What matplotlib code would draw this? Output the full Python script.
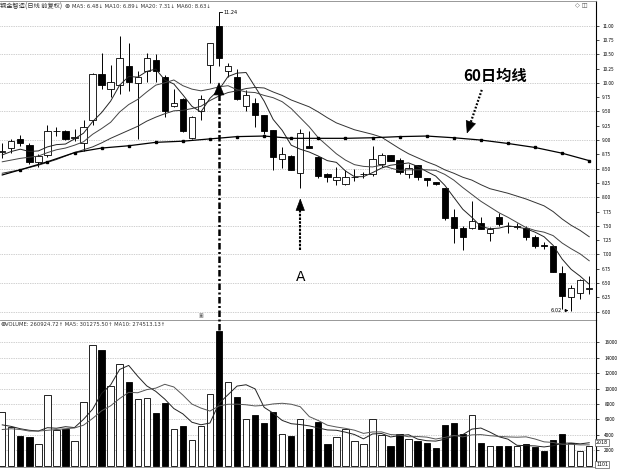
import numpy as np
import matplotlib.pyplot as plt

plt.rcParams['font.family'] = ['Noto Sans CJK SC', 'DejaVu Sans']

# daily candles (66 sessions)
opens = [8.79, 8.86, 9.02, 8.91, 8.62, 8.74, 9.15, 9.16, 9.03, 8.94,
         9.35, 10.15, 9.90, 9.96, 10.30, 9.99, 10.20, 10.40, 10.10, 9.60,
         9.72, 9.03, 9.51, 10.31, 11.00, 10.20, 10.11, 9.60, 9.64, 9.44,
         9.18, 8.66, 8.72, 8.42, 8.90, 8.71, 8.40, 8.30, 8.23, 8.35,
         8.40, 8.40, 8.59, 8.73, 8.65, 8.41, 8.56, 8.33, 8.26, 8.17,
         7.65, 7.47, 7.46, 7.55, 7.38, 7.65, 7.50, 7.48, 7.46, 7.31,
         7.16, 7.14, 6.68, 6.25, 6.32, 6.40]
highs = [8.94, 9.01, 9.08, 8.94, 8.75, 9.27, 9.23, 9.18, 9.20, 9.35,
         10.17, 10.52, 10.31, 10.81, 10.70, 10.20, 10.52, 10.50, 10.14, 9.89,
         9.73, 9.42, 9.79, 10.70, 11.24, 10.34, 10.25, 9.88, 9.73, 9.44,
         9.18, 8.87, 8.74, 9.19, 9.16, 8.72, 8.43, 8.53, 8.47, 8.49,
         8.45, 8.90, 8.77, 8.74, 8.68, 8.59, 8.57, 8.33, 8.27, 8.17,
         7.79, 7.49, 7.94, 7.65, 7.48, 7.72, 7.56, 7.55, 7.49, 7.34,
         7.21, 7.15, 6.80, 6.46, 6.58, 6.62]
lows = [8.68, 8.77, 8.90, 8.58, 8.53, 8.71, 9.07, 9.00, 8.98, 8.80,
        9.26, 9.90, 9.76, 9.81, 9.85, 9.01, 10.02, 10.02, 9.41, 9.57,
        9.14, 9.02, 9.35, 9.99, 10.29, 10.10, 9.70, 9.51, 9.23, 9.10,
        8.47, 8.51, 8.47, 8.16, 8.86, 8.33, 8.26, 8.21, 8.22, 8.29,
        8.33, 8.38, 8.53, 8.63, 8.41, 8.33, 8.30, 8.19, 8.21, 7.60,
        7.20, 7.07, 7.45, 7.45, 7.24, 7.50, 7.37, 7.44, 7.25, 7.12,
        7.10, 6.69, 6.05, 6.02, 6.23, 6.31]
closes = [8.80, 8.98, 8.94, 8.62, 8.72, 9.16, 9.15, 9.02, 9.05, 9.23,
          10.15, 9.97, 10.01, 10.43, 10.01, 10.10, 10.43, 10.21, 9.50, 9.65,
          9.16, 9.41, 9.72, 10.69, 10.43, 10.30, 9.71, 9.79, 9.44, 9.15,
          8.71, 8.75, 8.48, 9.13, 8.86, 8.37, 8.35, 8.35, 8.35, 8.36,
          8.41, 8.67, 8.74, 8.64, 8.44, 8.52, 8.36, 8.31, 8.23, 7.64,
          7.47, 7.31, 7.58, 7.45, 7.45, 7.53, 7.49, 7.48, 7.31, 7.14,
          7.15, 6.70, 6.28, 6.42, 6.55, 6.41]

ma5 = [8.74, 8.80, 8.84, 8.80, 8.81, 8.88, 8.92, 8.93, 9.02, 9.12,
       9.32, 9.48, 9.68, 9.96, 10.11, 10.10, 10.20, 10.24, 10.05, 9.98,
       9.79, 9.59, 9.49, 9.73, 9.88, 10.11, 10.17, 10.18, 9.93, 9.68,
       9.36, 9.17, 8.91, 8.84, 8.79, 8.72, 8.64, 8.61, 8.46, 8.36,
       8.36, 8.43, 8.51, 8.56, 8.58, 8.60, 8.54, 8.45, 8.37, 8.21,
       8.00, 7.79, 7.65, 7.49, 7.45, 7.46, 7.50, 7.48, 7.45, 7.39,
       7.31, 7.16, 6.92, 6.74, 6.62, 6.48]
ma10 = [8.62, 8.65, 8.68, 8.70, 8.72, 8.78, 8.83, 8.86, 8.91, 8.97,
        9.10, 9.20, 9.31, 9.49, 9.62, 9.71, 9.84, 9.96, 10.00, 10.05,
        9.95, 9.89, 9.86, 9.89, 9.93, 9.95, 9.88, 9.84, 9.83, 9.78,
        9.74, 9.67, 9.55, 9.39, 9.23, 9.04, 8.90, 8.76, 8.65, 8.57,
        8.54, 8.53, 8.56, 8.51, 8.47, 8.48, 8.48, 8.48, 8.47, 8.40,
        8.30, 8.17, 8.05, 7.93, 7.83, 7.73, 7.65, 7.56, 7.47, 7.42,
        7.39, 7.33, 7.20, 7.10, 7.01, 6.89]
ma20 = [8.42, 8.45, 8.48, 8.52, 8.56, 8.61, 8.66, 8.72, 8.78, 8.83,
        8.88, 8.95, 9.03, 9.10, 9.17, 9.24, 9.33, 9.40, 9.46, 9.51,
        9.52, 9.55, 9.59, 9.69, 9.77, 9.83, 9.86, 9.90, 9.92, 9.91,
        9.84, 9.78, 9.70, 9.64, 9.58, 9.49, 9.39, 9.30, 9.24, 9.18,
        9.14, 9.10, 9.05, 8.95, 8.85, 8.76, 8.69, 8.62, 8.56, 8.48,
        8.42, 8.35, 8.30, 8.22, 8.15, 8.11, 8.07, 8.02, 7.97, 7.91,
        7.85, 7.75, 7.62, 7.51, 7.42, 7.31]
# MA60 read at the dotted marker positions
ma60_idx = [0, 2, 5, 8, 11, 14, 17, 20, 23, 26, 29, 32, 35, 38, 41, 44,
            47, 50, 53, 56, 59, 62, 65]
ma60 = [8.39, 8.48, 8.62, 8.78, 8.86, 8.90, 8.96, 8.98, 9.02, 9.06, 9.07,
        9.03, 9.03, 9.03, 9.04, 9.06, 9.07, 9.04, 9.00, 8.94, 8.87, 8.77, 8.64]

volume = [6990, 5050, 3840, 3750, 2890, 9150, 4700, 4830, 3190, 8240,
          15630, 14980, 10320, 13170, 10880, 8630, 8720, 6780, 8150, 4790,
          5170, 3320, 5140, 9280, 17500, 10790, 8890, 6000, 6600, 5560,
          7030, 4180, 3890, 6040, 4720, 5690, 2890, 3670, 4830, 3190,
          2890, 6040, 3970, 2580, 4100, 3450, 3190, 2940, 2320, 5260,
          5560, 4100, 6520, 3020, 2630, 2550, 2540, 2540, 2800, 2460,
          1890, 3320, 4100, 3020, 1890, 2610]
vma5 = [5300, 5100, 4800, 4600, 4504, 4936, 4866, 5064, 4952, 6022,
        7318, 9374, 10472, 12468, 12996, 11596, 10344, 9636, 8632, 7414,
        6722, 5642, 5314, 5540, 8082, 9206, 10320, 10492, 9956, 7568,
        6816, 5874, 5452, 5340, 5172, 4904, 4646, 4602, 4360, 4054,
        3494, 4124, 4184, 3734, 3916, 4028, 3458, 3252, 3200, 3432,
        3854, 4036, 4752, 4892, 4366, 3764, 3452, 2656, 2612, 2578,
        2446, 2602, 2914, 2958, 2844, 2988]
vma10 = [4700, 4800, 4700, 4500, 4500, 4600, 4700, 4800, 4900, 5263,
         6127, 7120, 7768, 8710, 9509, 9457, 9859, 10054, 10550, 10205,
         9159, 7993, 7475, 7086, 7748, 7964, 7981, 7903, 7748, 7825,
         8011, 8097, 7972, 7648, 6370, 5860, 5260, 5027, 4850, 4613,
         4199, 4385, 4393, 4047, 3985, 3761, 3791, 3718, 3467, 3674,
         3941, 3747, 4002, 4046, 3899, 3809, 3744, 3704, 3752, 3472,
         3105, 3027, 2785, 2785, 2711, 2717]

price_ticks = np.arange(6.0, 11.01, 0.25)
price_grid = np.arange(6.0, 11.01, 0.5)
vol_ticks = [2000, 4000, 6000, 8000, 10000, 12000, 14000, 16000]

title = '钢金智造(日线 前复权)'
header = 'MA5: 6.48↓ MA10: 6.89↓ MA20: 7.31↓ MA60: 8.63↓'
vol_header = 'VOLUME: 260924.72↑ MA5: 301275.50↑ MA10: 274513.13↑'

x = np.arange(len(closes))
o = np.array(opens); c = np.array(closes)
up = c >= o
W = 0.7
grid_kw = dict(color='#a0a0a0', lw=0.5, dashes=(1, 1.5), zorder=0)
small = dict(family='DejaVu Sans', color='#333333', va='center', ha='left')

fig = plt.figure(figsize=(6.2, 4.69), dpi=100)
ax = fig.add_axes([0, 1 - 320 / 469, 596 / 620, 319 / 469])
ax2 = fig.add_axes([0, 2 / 469, 596 / 620, 147 / 469])
ax.set_zorder(3)
ax.patch.set_visible(False)

# --- price panel ---
for g in price_grid:
    ax.axhline(g, **grid_kw)
ax.vlines(x, lows, highs, color='black', lw=0.7, zorder=2)
body_lo = np.minimum(o, c)
body_h = np.maximum(np.abs(c - o), 0.012)
ax.bar(x, body_h, W, bottom=body_lo, color=np.where(up, 'white', 'black'),
       edgecolor='black', linewidth=0.6, zorder=3)

ax.plot(x, ma5, color='#222222', lw=0.7, zorder=4)
ax.plot(x, ma10, color='#444444', lw=0.7, zorder=4)
ax.plot(x, ma20, color='#333333', lw=0.7, zorder=4)
ax.plot(ma60_idx, ma60, color='black', lw=0.9, marker='s', ms=1.5,
        markevery=list(range(1, len(ma60))), zorder=4)

ax.set_xlim(-0.25, 65.75)
ax.set_ylim(5.855, 11.43)
ax.set_xticks([])
ax.yaxis.tick_right()
ax.set_yticks(price_ticks)
ax.set_yticklabels(['%.2f' % t for t in price_ticks])
ax.tick_params(axis='y', direction='out', length=2, width=0.5, labelsize=3.4, pad=2.5)
for s in ['left', 'bottom']:
    ax.spines[s].set_visible(False)
ax.spines['top'].set_color('#888888')
ax.spines['top'].set_linewidth(0.6)
ax.spines['right'].set_color('black')
ax.spines['right'].set_linewidth(0.8)

# header line
ax.text(0, 0.984, title, transform=ax.transAxes, fontsize=4.5,
        va='center', ha='left', color='#333333')
ax.text(67 / 596, 0.984, '⊗', transform=ax.transAxes, fontsize=4.5,
        va='center', ha='center', color='#222222', family='DejaVu Sans')
ax.text(72 / 596, 0.984, header, transform=ax.transAxes, fontsize=3.8, **small)
ax.text(588 / 596, 0.984, '◇ ◫', transform=ax.transAxes, fontsize=4.5,
        va='center', ha='right', color='#555555', family='DejaVu Sans')

# high / low labels
ax.plot([24, 24.35], [11.24, 11.24], color='black', lw=0.6)
ax.text(24.45, 11.23, '11.24', fontsize=3.6, va='center', ha='left',
        family='DejaVu Sans')
ax.annotate('', xy=(63.0, 6.02), xytext=(62.0, 6.02),
            arrowprops=dict(arrowstyle='-|>,head_length=0.3,head_width=0.15',
                            color='black', lw=0.5, mutation_scale=6))
ax.text(61.95, 6.02, '6.02', fontsize=3.6, va='center', ha='right',
        family='DejaVu Sans')
ax.text(22, 5.93, '▣', fontsize=3.5, ha='center', va='center', color='#666666',
        family='DejaVu Sans')

# big dash-dot arrow on the peak day
ax.plot([24, 24], [5.68, 9.86], color='black', lw=1.8, dashes=(2.6, 1.0, 0.8, 1.0),
        clip_on=False, zorder=6)
ax.annotate('', xy=(24, 10.06), xytext=(24, 9.84),
            arrowprops=dict(arrowstyle='-|>,head_length=0.85,head_width=0.35',
                            color='black', lw=0.5, mutation_scale=10), zorder=6)

# arrow A
ax.plot([33, 33], [7.08, 7.86], color='black', lw=1.5, dashes=(1.2, 0.6), zorder=6)
ax.annotate('', xy=(33, 8.03), xytext=(33, 7.84),
            arrowprops=dict(arrowstyle='-|>,head_length=0.8,head_width=0.3',
                            color='black', lw=0.5, mutation_scale=10), zorder=6)
ax.text(33, 6.61, 'A', fontsize=10, ha='center', va='center', family='DejaVu Sans')

# MA60 callout
ax.text(54.6, 10.12, '60日均线', fontsize=11, fontweight='bold', ha='center', va='center')
ax.plot([53.1, 51.72], [9.876, 9.236], color='black', lw=1.6, dashes=(0.8, 0.8), zorder=6)
ax.annotate('', xy=(51.35, 9.07), xytext=(51.75, 9.25),
            arrowprops=dict(arrowstyle='-|>,head_length=0.8,head_width=0.35',
                            color='black', lw=0.5, mutation_scale=10), zorder=6)

# --- volume panel ---
for g in vol_ticks:
    ax2.axhline(g, **grid_kw)
ax2.bar(x, volume, W, color=np.where(up, 'white', 'black'), edgecolor='black',
        linewidth=0.6, zorder=3)
ax2.plot(x, vma5, color='#222222', lw=0.7, zorder=4)
ax2.plot(x, vma10, color='#555555', lw=0.7, zorder=4)
ax2.set_xlim(-0.25, 65.75)
ax2.set_ylim(-150, 18870)
ax2.set_xticks([])
ax2.yaxis.tick_right()
ax2.set_yticks(vol_ticks)
ax2.set_yticklabels([str(v) for v in vol_ticks])
ax2.tick_params(axis='y', direction='out', length=2, width=0.5, labelsize=3.4, pad=4)
ax2.spines['left'].set_visible(False)
ax2.spines['top'].set_color('#888888')
ax2.spines['top'].set_linewidth(0.6)
ax2.spines['bottom'].set_color('#888888')
ax2.spines['bottom'].set_linewidth(0.6)
ax2.spines['right'].set_color('black')
ax2.spines['right'].set_linewidth(0.8)

ax2.text(0, 0.966, '⊗', transform=ax2.transAxes, fontsize=4.5, va='center',
         ha='left', color='#222222', family='DejaVu Sans')
ax2.text(5 / 596, 0.966, vol_header, transform=ax2.transAxes, fontsize=3.8, **small)

box = dict(boxstyle='square,pad=0.15', fc='white', ec='#333333', lw=0.4)
ax2.text(1.0, 3000, '2018', transform=ax2.get_yaxis_transform(), fontsize=3.4,
         va='center', ha='left', bbox=box, family='DejaVu Sans', clip_on=False)
ax2.text(1.0, 150, '1101', transform=ax2.get_yaxis_transform(), fontsize=3.4,
         va='center', ha='left', bbox=box, family='DejaVu Sans', clip_on=False)

fig.savefig('out.png', dpi=100)
